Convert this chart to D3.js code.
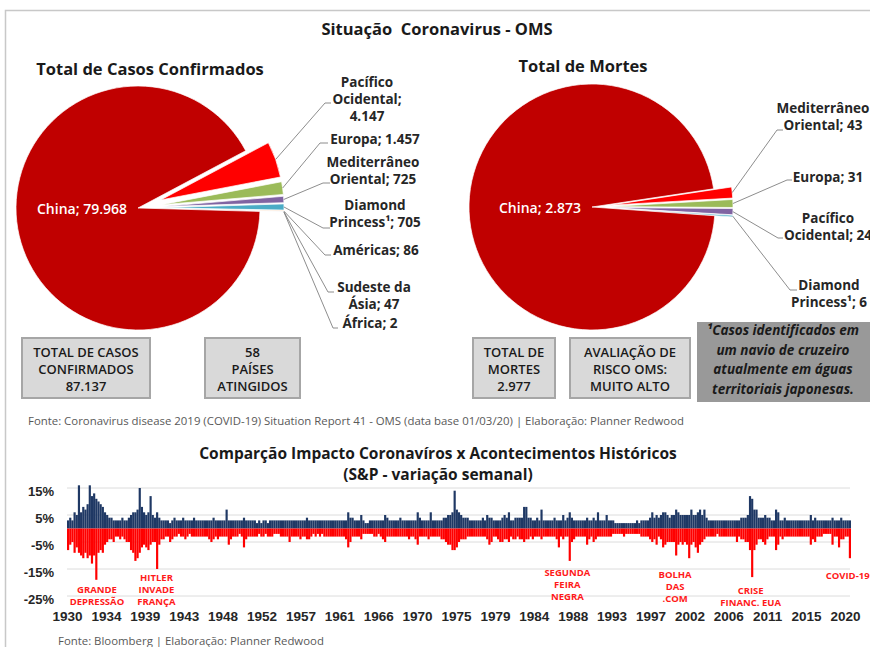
<!DOCTYPE html>
<html>
<head>
<meta charset="utf-8">
<script src="https://cdn.jsdelivr.net/npm/d3@7"></script>
<style>
body { margin: 0; background: #fff; }
svg { display: block; font-family: "Open Sans", Lato, sans-serif; }
</style>
</head>
<body>
<svg id="chart"></svg>
<script>
// constants
const width = 870;
const height = 647;

// ---- pie data (OMS report 41) ----
const casesRegions = ["Pacífico Ocidental", "Europa", "Mediterrâneo Oriental", "Diamond Princess¹", "Américas", "Sudeste da Ásia", "África", "China"];
const casesValues = [4147, 1457, 725, 705, 86, 47, 2, 79968];
const casesColors = ["#FF0000", "#9BBB59", "#8064A2", "#4BACC6", "#F79646", "#2C4D75", "#772C2A", "#C00000"];

const deathRegions = ["Mediterrâneo Oriental", "Europa", "Pacífico Ocidental", "Diamond Princess¹", "China"];
const deathValues = [43, 31, 24, 6, 2873];
const deathColors = ["#FF0000", "#9BBB59", "#8064A2", "#4BACC6", "#C00000"];

// summary boxes
const casesBox = ["TOTAL DE CASOS", "CONFIRMADOS", "87.137"];
const countriesBox = ["58", "PAÍSES", "ATINGIDOS"];
const deathsBox = ["TOTAL DE", "MORTES", "2.977"];
const riskBox = ["AVALIAÇÃO DE", "RISCO OMS:", "MUITO ALTO"];
const noteLines = ["¹Casos identificados em", "um navio de cruzeiro", "atualmente em águas", "territoriais japonesas."];

// ---- S&P weekly variation (%), max up / max down per quarter, 1930 Q1 .. 2020 Q1 ----
const startYear = 1930;
const weeklyUp = [
  3,4,3,6, 5,16,6,8, 7,9,16,12, 13,11,10,9, 8,6,5,4, 4,3,3,3, 3,4,3,3, 4,5,6,6, 7,15,8,6, 5,6,12,5,
  4,6,4,3, 3,3,3,2, 3,4,3,3, 3,4,3,3, 3,3,4,3, 3,3,3,3, 3,3,3,4, 3,3,3,3, 3,7,3,3, 3,3,3,3,
  3,4,3,3, 3,3,3,2, 3,2,3,3, 2,3,3,3, 3,3,3,3, 3,3,3,3, 3,3,3,3, 3,3,4,3, 3,3,3,3, 3,3,3,3,
  3,3,3,3, 3,3,3,3, 3,6,4,4, 3,3,3,5, 3,2,2,3, 3,3,3,3, 3,3,5,4, 3,3,3,3, 3,4,3,3, 3,3,3,3,
  3,6,4,3, 3,3,3,6, 3,3,3,3, 3,4,4,5, 5,6,14,7, 6,5,4,4, 4,3,3,3, 3,3,3,4, 3,5,4,4, 3,3,3,3,
  4,5,4,6, 3,3,4,4, 4,4,8,8, 4,4,3,3, 4,3,7,3, 3,3,3,3, 4,3,3,3, 5,3,4,6, 4,3,3,3, 3,3,3,4,
  3,3,4,3, 6,3,3,3, 5,3,3,3, 2,2,2,2, 2,2,2,2, 2,2,3,2, 3,3,3,3, 4,6,4,5, 4,5,6,6, 5,4,5,5,
  7,6,5,5, 5,5,5,7, 5,5,6,7, 5,7,4,3, 3,3,3,3, 3,3,3,3, 3,3,3,3, 3,3,4,4, 4,5,12,11, 7,7,4,4,
  4,5,4,4, 3,3,7,6, 3,3,4,3, 3,3,3,3, 3,3,3,3, 3,3,5,3, 4,3,3,3, 3,3,3,3, 4,3,3,3, 4,3,3,3,
  3
];
const weeklyDown = [
  -8,-6,-5,-9, -7,-9,-10,-11, -9,-11,-10,-13, -10,-19,-9,-8, -9,-6,-5,-4, -4,-5,-3,-3, -4,-3,-4,-5, -5,-8,-9,-12, -11,-9,-7,-6, -7,-8,-6,-5,
  -5,-15,-6,-4, -4,-3,-3,-5, -4,-3,-3,-2, -3,-3,-4,-3, -2,-3,-3,-3, -3,-3,-3,-3, -3,-4,-5,-4, -3,-4,-3,-3, -3,-3,-6,-4, -3,-3,-3,-2,
  -3,-7,-4,-3, -3,-3,-3,-3, -2,-3,-3,-2, -3,-3,-3,-2, -2,-2,-3,-3, -3,-3,-5,-3, -3,-3,-3,-4, -3,-3,-4,-4, -3,-2,-3,-2, -3,-2,-3,-3,
  -3,-3,-3,-3, -3,-3,-3,-3, -4,-7,-5,-3, -3,-3,-3,-4, -2,-2,-2,-2, -2,-3,-3,-2, -3,-4,-5,-3, -3,-3,-3,-3, -3,-3,-3,-3, -3,-4,-3,-3,
  -4,-6,-3,-3, -3,-3,-4,-3, -3,-3,-3,-3, -4,-4,-5,-6, -6,-8,-8,-7, -5,-4,-4,-4, -3,-3,-3,-3, -3,-3,-3,-3, -3,-4,-6,-5, -3,-3,-4,-5,
  -5,-4,-4,-5, -3,-4,-4,-3, -4,-4,-5,-4, -4,-3,-4,-3, -3,-3,-4,-3, -3,-3,-3,-3, -3,-4,-7,-3, -4,-3,-3,-12, -5,-4,-3,-3, -3,-3,-3,-6,
  -4,-3,-5,-4, -3,-3,-3,-3, -3,-3,-3,-2, -2,-2,-2,-2, -3,-2,-2,-2, -2,-2,-2,-2, -3,-3,-3,-3, -4,-5,-4,-6, -3,-4,-7,-6, -5,-5,-5,-5,
  -10,-6,-5,-6, -5,-6,-11,-6, -5,-7,-9,-6, -5,-4,-3,-3, -3,-3,-3,-2, -3,-3,-3,-3, -3,-3,-3,-3, -5,-3,-4,-4, -5,-5,-8,-18, -8,-6,-4,-4,
  -5,-6,-4,-3, -3,-3,-8,-6, -3,-4,-3,-3, -3,-3,-3,-3, -3,-3,-3,-3, -3,-3,-6,-4, -5,-3,-3,-3, -2,-2,-2,-2, -6,-3,-3,-7, -4,-4,-3,-3,
  -11
];
const yTicks = [15, 5, -5, -15, -25];
const yearLabels = ["1930", "1934", "1939", "1943", "1948", "1952", "1957", "1961", "1966", "1970", "1975",
                    "1979", "1984", "1988", "1993", "1997", "2002", "2006", "2011", "2015", "2020"];
const eventLabels = [["GRANDE", "DEPRESSÃO"], ["HITLER", "INVADE", "FRANÇA"], ["SEGUNDA", "FEIRA", "NEGRA"],
                     ["BOLHA", "DAS", ".COM"], ["CRISE", "FINANC. EUA"], ["COVID-19"]];
const eventYears = [1933.45, 1940.3, 1987.6, 2000.0, 2008.7, 2020.1];

const svg = d3.select("svg#chart").attr("width", width).attr("height", height);

// outer frame
svg.append("rect").attr("x", 5.5).attr("y", 10.5).attr("width", 900).attr("height", 700)
  .attr("fill", "none").attr("stroke", "#c8c8c8").attr("stroke-width", 1.5);

svg.append("text").attr("x", 437).attr("y", 35).attr("text-anchor", "middle")
  .style("white-space", "pre")
  .attr("font-size", 16.5).attr("font-weight", 700).attr("fill", "#1a1a1a")
  .text("Situação  Coronavirus - OMS");

const locale = d3.formatLocale({ decimal: ",", thousands: ".", grouping: [3], currency: ["", ""] });
const fmt = locale.format(",d");

function drawPie(cfg) {
  const data = cfg.regions.map((r, i) => ({ name: r, value: cfg.values[i], color: cfg.colors[i], layout: cfg.layout[i] }));
  const pie = d3.pie().sort(null).value(d => d.value)
    .startAngle(cfg.start).endAngle(cfg.start + 2 * Math.PI);
  const arcs = pie(data);
  const arc = d3.arc().innerRadius(0).outerRadius(cfg.r);
  arcs.forEach(a => {
    a.mid = (a.startAngle + a.endAngle) / 2;
    const off = a.data.name === "China" ? 0 : cfg.explode;
    a.ox = cfg.cx + off * Math.sin(a.mid);
    a.oy = cfg.cy - off * Math.cos(a.mid);
  });

  const g = svg.append("g");
  g.selectAll("path").data(arcs).join("path")
    .attr("transform", a => `translate(${a.ox},${a.oy})`)
    .attr("d", arc)
    .attr("fill", a => a.data.color)
    .attr("stroke", "#fff").attr("stroke-width", 0.7);

  // leader lines
  const others = arcs.filter(a => a.data.layout);
  g.selectAll("polyline").data(others).join("polyline")
    .attr("points", a => {
      const L = a.data.layout;
      const sx = a.ox + cfg.r * Math.sin(a.mid), sy = a.oy - cfg.r * Math.cos(a.mid);
      return [[sx, sy], [L.lx, L.ly], [L.tx, L.ly]].join(" ");
    })
    .attr("fill", "none").attr("stroke", "#808080").attr("stroke-width", 0.9);

  // labels
  others.forEach(a => {
    const L = a.data.layout;
    const words = (a.data.name + "; " + fmt(a.data.value)).split(" ");
    let k = 0;
    const lines = L.split.map(n => { const s = words.slice(k, k + n).join(" "); k += n; return s; });
    const t = g.append("text").attr("text-anchor", "middle")
      .attr("font-size", 13.5).attr("font-weight", 700).attr("fill", "#262626");
    lines.forEach((s, i) => t.append("tspan").attr("x", L.cx).attr("y", L.y + i * 17).text(s));
  });

  const china = arcs.find(a => a.data.name === "China");
  g.append("text").attr("x", cfg.cx - 11).attr("y", cfg.cy + 6).attr("text-anchor", "end")
    .attr("font-size", 14).attr("font-weight", 600).attr("fill", "#fff")
    .text("China; " + fmt(china.data.value));

  svg.append("text").attr("x", cfg.titleX).attr("y", cfg.titleY).attr("text-anchor", "middle")
    .attr("font-size", 16.5).attr("font-weight", 700).attr("fill", "#1a1a1a")
    .text(cfg.title);
}

drawPie({
  regions: casesRegions, values: casesValues, colors: casesColors,
  cx: 138, cy: 208, r: 122, explode: 24, start: 62 * Math.PI / 180,
  title: "Total de Casos Confirmados", titleX: 150, titleY: 75,
  layout: [
    { cx: 367, y: 87, split: [1, 1, 1], lx: 325, ly: 103, tx: 331 },
    { cx: 375, y: 144, split: [2], lx: 320, ly: 143, tx: 328 },
    { cx: 373, y: 167, split: [1, 2], lx: 323, ly: 183, tx: 330 },
    { cx: 375, y: 210, split: [1, 2], lx: 323, ly: 228, tx: 330 },
    { cx: 376, y: 255, split: [2], lx: 325, ly: 255, tx: 331 },
    { cx: 374, y: 292, split: [2, 2], lx: 328, ly: 292, tx: 334 },
    { cx: 370, y: 328, split: [2], lx: 333, ly: 328, tx: 338 },
    null
  ]
});

drawPie({
  regions: deathRegions, values: deathValues, colors: deathColors,
  cx: 592, cy: 207, r: 123, explode: 18, start: 81.5 * Math.PI / 180,
  title: "Total de Mortes", titleX: 583, titleY: 72,
  layout: [
    { cx: 823, y: 113, split: [1, 2], lx: 777, ly: 130, tx: 783 },
    { cx: 828, y: 182, split: [2], lx: 787, ly: 180, tx: 792 },
    { cx: 828, y: 223, split: [1, 2], lx: 778, ly: 238, tx: 783 },
    { cx: 829, y: 290, split: [1, 2], lx: 790, ly: 290, tx: 797 },
    null
  ]
});

// summary boxes
function drawBox(lines, x, w) {
  svg.append("rect").attr("x", x).attr("y", 338).attr("width", w).attr("height", 60)
    .attr("fill", "#d9d9d9").attr("stroke", "#a6a6a6").attr("stroke-width", 2);
  const t = svg.append("text").attr("text-anchor", "middle")
    .attr("font-size", 13).attr("font-weight", 600).attr("fill", "#1a1a1a");
  lines.forEach((s, i) => t.append("tspan").attr("x", x + w / 2).attr("y", 357 + i * 17).text(s));
}
drawBox(casesBox, 22, 128);
drawBox(countriesBox, 205, 95);
drawBox(deathsBox, 473, 82);
drawBox(riskBox, 570, 120);

svg.append("rect").attr("x", 697).attr("y", 322).attr("width", 180).attr("height", 80).attr("fill", "#999999");
const note = svg.append("text").attr("text-anchor", "middle")
  .attr("font-size", 13.5).attr("font-weight", 700).attr("font-style", "italic").attr("fill", "#1a1a1a");
noteLines.forEach((s, i) => note.append("tspan").attr("x", 783).attr("y", 335 + i * 19.5).text(s));

svg.append("text").attr("x", 28).attr("y", 425)
  .attr("font-size", 11.4).attr("fill", "#595959")
  .text("Fonte: Coronavirus disease 2019 (COVID-19) Situation Report 41 - OMS (data base 01/03/20) | Elaboração: Planner Redwood");

// ---- bottom chart ----
const subTitles = ["Comparção Impacto Coronavíros x Acontecimentos Históricos", "(S&P - variação semanal)"];
subTitles.forEach((s, i) => svg.append("text").attr("x", 438).attr("y", 459 + i * 20.5)
  .attr("text-anchor", "middle").attr("font-size", 15.5).attr("font-weight", 700).attr("fill", "#1a1a1a")
  .text(s));

const x = d3.scaleLinear().domain([startYear, 2020.25]).range([67, 851]);
const y = d3.scaleLinear().domain([-25, 15]).range([596, 488]);
const bw = x(startYear + 0.25) - x(startYear);

svg.append("g").selectAll("line").data(yTicks).join("line")
  .attr("x1", 67).attr("x2", 850).attr("y1", d => y(d)).attr("y2", d => y(d))
  .attr("stroke", "#dcdcdc").attr("stroke-width", 1);

svg.append("g").selectAll("rect").data(weeklyUp).join("rect")
  .attr("x", (d, i) => x(startYear + i * 0.25)).attr("width", bw)
  .attr("y", d => y(d)).attr("height", d => y(0) - y(d))
  .attr("fill", "#1F3864");

svg.append("g").selectAll("rect").data(weeklyDown).join("rect")
  .attr("x", (d, i) => x(startYear + i * 0.25)).attr("width", bw)
  .attr("y", y(0)).attr("height", d => y(d) - y(0))
  .attr("fill", "#FF0000");

const yAxis = svg.append("g").attr("transform", "translate(54,3)")
  .call(d3.axisLeft(y).tickValues(yTicks).tickFormat(d => d + "%").tickSize(0).tickPadding(0));
yAxis.select(".domain").remove();
yAxis.selectAll("text").attr("font-family", "inherit").attr("font-size", 13).attr("font-weight", 700).attr("fill", "#262626");

const xLabels = d3.scalePoint().domain(yearLabels).range([67, 845]);
const xAxis = svg.append("g").attr("transform", "translate(0,608)")
  .call(d3.axisBottom(xLabels).tickSize(0).tickPadding(3));
xAxis.select(".domain").remove();
xAxis.selectAll("text").attr("font-family", "inherit").attr("font-size", 13.5).attr("font-weight", 700).attr("fill", "#262626");

// event annotations
const eventTop = [593, 581, 576, 578, 594, 579];
eventLabels.forEach((lines, i) => {
  const cx = i === 5 ? x(eventYears[i]) - 24 : x(eventYears[i]);
  lines.forEach((s, j) => svg.append("text")
    .attr("x", cx).attr("y", eventTop[i] + j * 12)
    .attr("text-anchor", i === 5 ? "start" : "middle")
    .attr("font-size", 9.5).attr("font-weight", 700).attr("fill", "#FF1A1A")
    .text(s));
});

svg.append("text").attr("x", 58).attr("y", 645)
  .attr("font-size", 11.4).attr("fill", "#595959")
  .text("Fonte: Bloomberg | Elaboração: Planner Redwood");
</script>
</body>
</html>
